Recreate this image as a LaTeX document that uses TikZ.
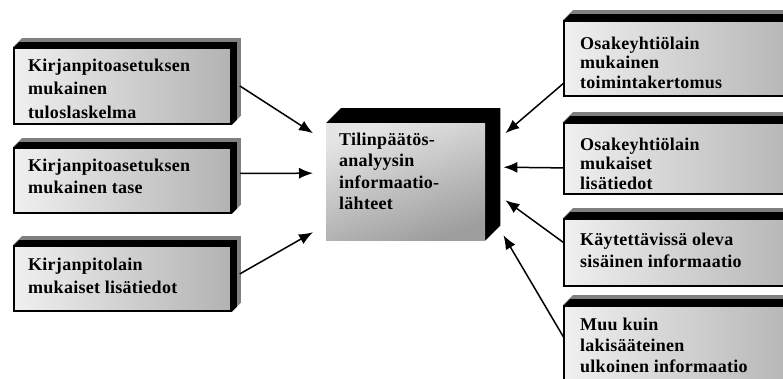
\documentclass[tikz,border=0pt]{standalone}
\usepackage{fontspec}
\setmainfont{Liberation Serif}[LetterSpace=1.5]
\usetikzlibrary{arrows.meta,calc,backgrounds}

\tikzset{
  every picture/.style={x=1pt,y=-1pt},
  % front face of a source box
  srcface/.style={draw=black, line width=1.8pt, rectangle, anchor=north west,
    inner sep=0pt, left color=black!6, right color=black!30},
  % front face of the central box
  hubface/.style={draw=none, rectangle, anchor=north west, inner sep=0pt,
    shading=axis, top color=black!10, bottom color=black!38, shading angle=20},
  % box text, placed by the top of its first line
  boxtext/.style={anchor=north west, inner sep=0pt, align=left,
    font=\bfseries\fontsize{18}{#1}\selectfont},
  boxtext/.default=22,
  feed/.style={line width=1.5pt, -{Latex[length=14pt,width=11pt]}},
}

% raised edge on top and right of a face: outer grey rim, inner dark band
\newcommand\raisededge[2]{%
  \fill[black!50] (#1.north west) -- ++(#2,-#2) -- ($(#1.north east)+(#2,-#2)$)
    -- ($(#1.south east)+(#2,-#2)$) -- (#1.south east) -- cycle;
  \fill[black] ($(#1.north west)+(1,0)$) -- ++(#2-4,-#2+4) -- ($(#1.north east)+(#2-4,-#2+4)$)
    -- ($(#1.south east)+(#2-4,-#2+4)$) -- (#1.south east) -- cycle;}

\begin{document}
\begin{tikzpicture}
\useasboundingbox (0,0) rectangle (783,378);
\clip (0,0) rectangle (783,378);

% left column
\node[srcface, minimum width=217pt, minimum height=76pt] (l1) at (13,47) {};
\node[srcface, minimum width=217pt, minimum height=65pt] (l2) at (13,147) {};
\node[srcface, minimum width=217pt, minimum height=65pt] (l3) at (13,245) {};
\node[boxtext=23.5] (l1t) at (28,58.5) {Kirjanpitoasetuksen\\mukainen\\tuloslaskelma};
\node[boxtext=22.5] (l2t) at (28,158.5) {Kirjanpitoasetuksen\\mukainen tase};
\node[boxtext=23] (l3t) at (28,257.5) {Kirjanpitolain\\mukaiset lisätiedot};

% central box
\node[hubface, minimum width=159pt, minimum height=117pt] (c) at (326,123) {};
\node[boxtext=21.5] (ct) at (339,132.5) {Tilinpäätös-\\analyysin\\informaatio-\\lähteet};

% right column
\node[srcface, minimum width=240pt, minimum height=75pt] (r1) at (563,20) {};
\node[srcface, minimum width=240pt, minimum height=71pt] (r2) at (563,122) {};
\node[srcface, minimum width=240pt, minimum height=67pt] (r3) at (563,218) {};
\node[srcface, minimum width=240pt, minimum height=85pt] (r4) at (563,305) {};
\node[boxtext=19.5] (r1t) at (580,36.5) {Osakeyhtiölain\\mukainen\\toimintakertomus};
\node[boxtext=19.5] (r2t) at (580,137.5) {Osakeyhtiölain\\mukaiset\\lisätiedot};
\node[boxtext=22] (r3t) at (580,232.5) {Käytettävissä oleva\\sisäinen informaatio};
\node[boxtext=21] (r4t) at (580,317.5) {Muu kuin\\lakisääteinen\\ulkoinen informaatio};

\begin{scope}[on background layer]
  \raisededge{l1}{9}
  \raisededge{l2}{9}
  \raisededge{l3}{9}
  \raisededge{r1}{10}
  \raisededge{r2}{10}
  \raisededge{r3}{10}
  \raisededge{r4}{10}
  \fill[black] (c.north west) -- ++(15,-15) -- ($(c.north east)+(15,-15)$)
    -- ($(c.south east)+(15,-15)$) -- (c.south east) -- cycle;
\end{scope}

% connectors into the central box
\draw[feed] ($(l1.east)+(8,0)$) -- ($(c.west)+(-13,-48.5)$);
\draw[feed] ($(l2.east)+(8,-7)$) -- ($(c.west)+(-13,-8.5)$);
\draw[feed] ($(l3.east)+(8,-4.5)$) -- ($(c.west)+(-13,50.5)$);
\draw[feed] ($(r1.west)+(1,24.5)$) -- ($(c.east)+(20,-48.5)$);
\draw[feed] ($(r2.west)+(1,9.5)$) -- ($(c.east)+(18,-14.5)$);
\draw[feed] ($(r3.west)+(1,-9.5)$) -- ($(c.east)+(20,18.5)$);
\draw[feed] ($(r4.west)+(1,-10.5)$) -- ($(c.east)+(18,53.5)$);
\end{tikzpicture}
\end{document}
